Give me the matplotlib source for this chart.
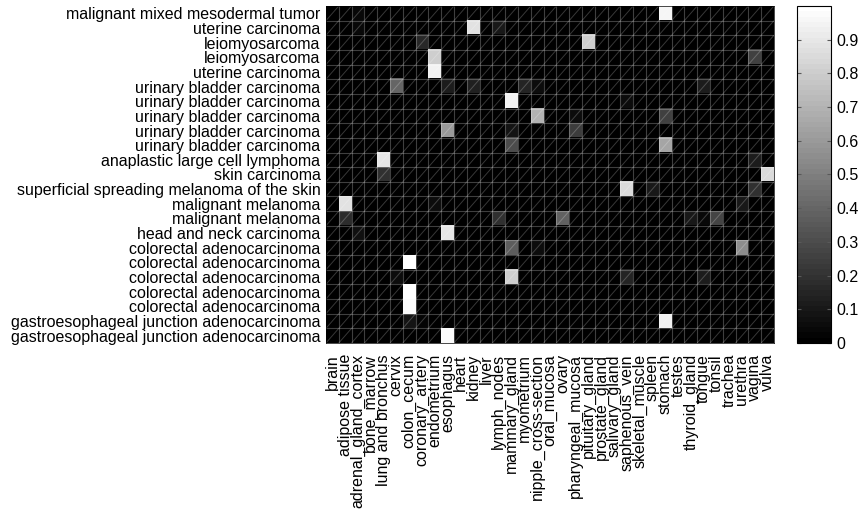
import numpy as np
import matplotlib
matplotlib.use('Agg')
import matplotlib.pyplot as plt
from matplotlib.collections import LineCollection

plt.rcParams['font.family'] = ['Liberation Sans', 'DejaVu Sans']

# Filas (muestras) y columnas (tejidos)
row_labels = [
    'malignant mixed mesodermal tumor', 'uterine carcinoma', 'leiomyosarcoma',
    'leiomyosarcoma', 'uterine carcinoma', 'urinary bladder carcinoma',
    'urinary bladder carcinoma', 'urinary bladder carcinoma',
    'urinary bladder carcinoma', 'urinary bladder carcinoma',
    'anaplastic large cell lymphoma', 'skin carcinoma',
    'superficial spreading melanoma of the skin', 'malignant melanoma',
    'malignant melanoma', 'head and neck carcinoma',
    'colorectal adenocarcinoma', 'colorectal adenocarcinoma',
    'colorectal adenocarcinoma', 'colorectal adenocarcinoma',
    'colorectal adenocarcinoma', 'gastroesophageal junction adenocarcinoma',
    'gastroesophageal junction adenocarcinoma',
]
col_labels = [
    'brain', 'adipose tissue', 'adrenal_gland_cortex', 'bone_marrow',
    'lung and bronchus', 'cervix', 'colon_cecum', 'coronary_artery',
    'endometrium', 'esophagus', 'heart', 'kidney', 'liver', 'lymph_nodes',
    'mammary_gland', 'myometrium', 'nipple_cross-section', 'oral_mucosa',
    'ovary', 'pharyngeal_mucosa', 'pituitary_gland', 'prostate_gland',
    'salivary_gland', 'saphenous_vein', 'skeletal_muscle', 'spleen',
    'stomach', 'testes', 'thyroid_gland', 'tongue', 'tonsil', 'trachea',
    'urethra', 'vagina', 'vulva',
]

# Valores no nulos (fila, columna, valor)
cell_rows = [0, 0, 1, 1, 1, 2, 2, 3, 3, 4,
             5, 5, 5, 5, 5, 5, 6, 6, 7, 7, 7,
             8, 8, 8, 9, 9, 10, 10, 11, 11,
             12, 12, 12, 13, 13, 13, 14, 14, 14, 14, 14, 14,
             15, 15, 16, 16, 16, 17, 18, 18, 18, 18,
             19, 20, 21, 21, 21, 22]
cell_cols = [26, 2, 11, 13, 2, 7, 20, 8, 33, 8,
             5, 9, 11, 15, 16, 29, 14, 23, 16, 26, 19,
             9, 14, 19, 14, 26, 4, 33, 4, 34,
             23, 25, 33, 1, 8, 32, 1, 13, 18, 28, 30, 29,
             2, 9, 14, 16, 32, 6, 14, 5, 23, 29,
             6, 6, 6, 7, 26, 9]
cell_vals = [0.96, 0.04, 0.88, 0.10, 0.04, 0.16, 0.80, 0.80, 0.25, 0.95,
             0.40, 0.12, 0.14, 0.15, 0.05, 0.12, 0.95, 0.05, 0.70, 0.25, 0.06,
             0.60, 0.08, 0.24, 0.30, 0.65, 0.90, 0.12, 0.20, 0.85,
             0.85, 0.10, 0.20, 0.88, 0.05, 0.10, 0.18, 0.20, 0.38, 0.10, 0.28, 0.04,
             0.07, 0.90, 0.36, 0.05, 0.55, 1.00, 0.80, 0.05, 0.15, 0.12,
             0.99, 0.98, 0.08, 0.03, 0.95, 0.98]

nrow, ncol = len(row_labels), len(col_labels)
data = np.full((nrow, ncol), 0.015)
data[cell_rows, cell_cols] = cell_vals

fig = plt.figure(figsize=(8.61, 5.11), dpi=100)
ax = fig.add_axes([0.3786, 0.3288, 0.5203, 0.6595])
cax = fig.add_axes([0.9257, 0.3288, 0.0395, 0.6595])

im = ax.imshow(data, cmap=plt.get_cmap('gray', 64), vmin=0, vmax=1,
               aspect='auto', interpolation='nearest',
               extent=(0, ncol, nrow, 0))

# Rejilla de celdas y diagonales (estilo MATLAB)
for k in range(1, ncol):
    ax.axvline(k, color='white', alpha=0.25, lw=0.8)
for k in range(1, nrow):
    ax.axhline(k, color='white', alpha=0.25, lw=0.8)
segs = [[(j, i + 1), (j + 1, i)] for i in range(nrow) for j in range(ncol)]
ax.add_collection(LineCollection(segs, colors='white', alpha=0.22, linewidths=0.7))
ax.set_xlim(0, ncol)
ax.set_ylim(nrow, 0)

ax.set_xticks(np.arange(ncol) + 0.5)
ax.set_xticklabels(col_labels, rotation=90, fontsize=11.5)
ax.set_yticks(np.arange(nrow) + 0.5)
ax.set_yticklabels(row_labels, fontsize=11.5)
ax.tick_params(axis='both', length=0)
ax.tick_params(axis='y', pad=4)
ax.tick_params(axis='x', pad=8)
for s in ax.spines.values():
    s.set_linewidth(0.5)

cb = fig.colorbar(im, cax=cax, ticks=np.arange(0, 1.0, 0.1))
cb.ax.set_yticklabels(['0'] + [f'{t:.1f}' for t in np.arange(0.1, 1.0, 0.1)])
cax.tick_params(direction='in', length=3, left=True, right=True,
                color='0.35', labelsize=11.5, pad=4)
cb.outline.set_linewidth(0.8)

fig.savefig('out.png', dpi=100)
